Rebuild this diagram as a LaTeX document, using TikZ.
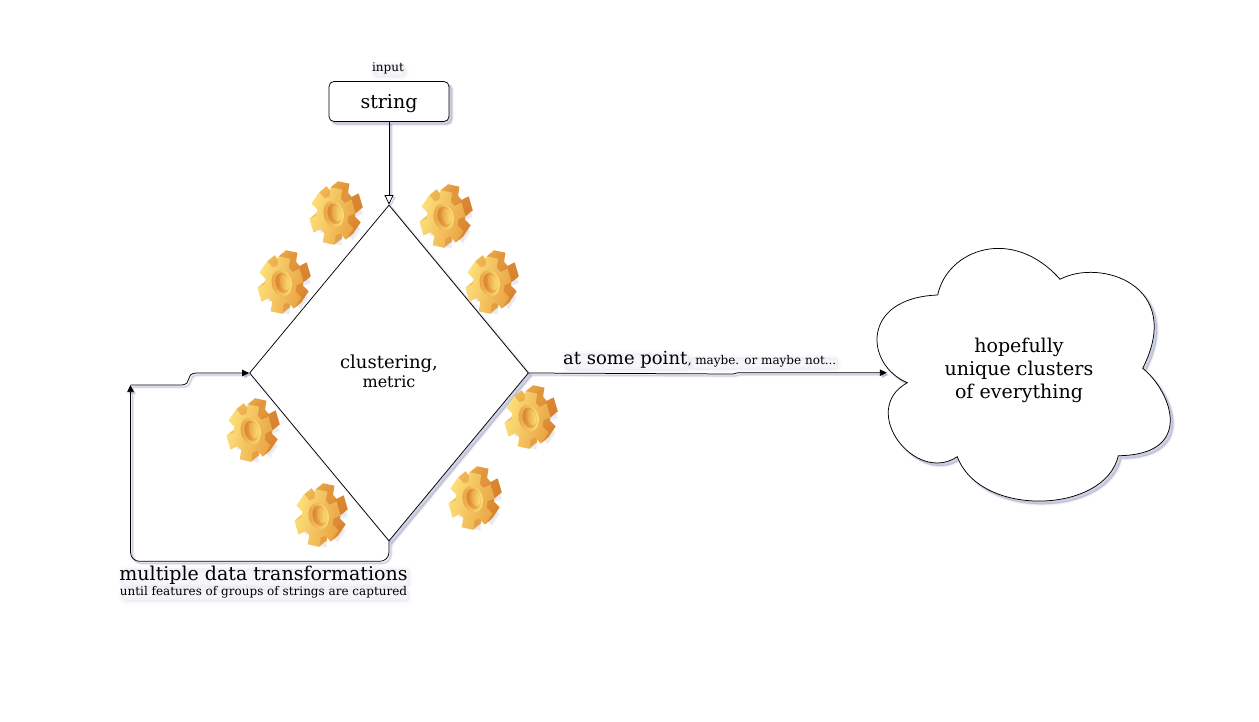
\documentclass[tikz,border=0pt]{standalone}
\usepackage{fontspec}
\setmainfont{DejaVu Serif}
\usetikzlibrary{arrows.meta,shapes.geometric}
\definecolor{shc}{HTML}{6A72A8}
\definecolor{gearL}{HTML}{FDE27C}
\definecolor{gearM}{HTML}{F6C65C}
\definecolor{gearR}{HTML}{E9A242}
\definecolor{gearD}{HTML}{D8802E}
\newcommand{\gearoutline}{(-95:29)
  \foreach \a in {-80,-20,40,100,160,220}{
    -- (\a-15:29) -- (\a+15:29) -- (\a+21:20) -- (\a+39:20) }
  -- cycle}
\tikzset{
  softshape/.style={
    preaction={draw=shc,fill=shc,opacity=.07,line width=3.5bp,transform canvas={xshift=3bp,yshift=-3bp}},
    preaction={draw=shc,fill=shc,opacity=.12,line width=1.5bp,transform canvas={xshift=3bp,yshift=-3bp}},
    preaction={draw=shc,fill=shc,opacity=.15,line width=.2bp,transform canvas={xshift=3bp,yshift=-3bp}}},
  softtext/.style={rounded corners=4bp,inner sep=0pt,
    preaction={fill=shc,opacity=.025,draw=shc,line width=6bp,transform canvas={xshift=2bp,yshift=-3bp}},
    preaction={fill=shc,opacity=.035,draw=shc,line width=2bp,transform canvas={xshift=2bp,yshift=-3bp}}},
  shapeline/.style={draw=black,fill=white,line width=.75bp},
  conn/.style={draw=black,line width=.75bp,rounded corners=0pt,
    preaction={draw=shc,opacity=.12,line width=3bp,transform canvas={xshift=2bp,yshift=-2bp}},
    preaction={draw=shc,opacity=.22,line width=1.2bp,transform canvas={xshift=2bp,yshift=-2bp}}},
  solidtip/.style={-{Triangle[length=7bp,width=6.5bp]}},
  opentip/.style={-{Triangle[open,length=9.5bp,width=9bp,fill=white]}},
  gearpic/.pic={
    \begin{scope}[shift={(1,1)},xscale=.8]
      \fill[shc,opacity=.07] [shift={(3.5,3)}] \gearoutline;
      \fill[shc,opacity=.08] [shift={(2.5,2)}] \gearoutline;
    \end{scope}
    \foreach \i in {8,7,6,5,4,3,2,1}{
      \begin{scope}[shift={({-3.5+\i*.9},{3-\i*.75})},xscale=.8]
        \shade[left color=gearM,right color=gearD] \gearoutline;
      \end{scope}}
    \begin{scope}[shift={(-3.5,3)},xscale=.8]
      \shade[left color=gearL,right color=gearR,shading angle=75] \gearoutline;
    \end{scope}
    \shade[left color=gearR,right color=gearL,rotate=14] (-2.5,0.5) ellipse (10 and 13.5);
    \shade[left color=gearD,right color=gearM,rotate=14] (-1.5,0.5) ellipse (7 and 10.5);
    \shade[left color=gearR,right color=gearL,rotate=14] (0.5,0.5) ellipse (4.5 and 8);
  }
}
\begin{document}
\begin{tikzpicture}[x=1bp,y=-1bp]
\useasboundingbox (0,0) rectangle (1259,722);
\fill[white] (0,0) rectangle (1259,722);

% string box
\node[shapeline,softshape,rectangle,rounded corners=5bp,minimum width=120bp,minimum height=40bp,inner sep=0pt,text depth=0pt,font=\fontsize{19bp}{22bp}\selectfont] (box) at (389,101.5) {\raisebox{-1bp}{string}};
\node[softtext,font=\fontsize{12bp}{14bp}\selectfont] (inp) at (388,68.5) {input};

% diamond
\node[diamond,shapeline,softshape,minimum width=279bp,minimum height=336bp,inner sep=0pt] (dia) at (389,373) {};
\node[inner sep=0pt,align=center,font=\fontsize{18bp}{21bp}\selectfont] (diatxt) at (389,371.5) {clustering,\\[-1.5pt]{\fontsize{16bp}{18bp}\selectfont metric}};

% cloud
\path[shapeline,softshape] (937.7,295) .. controls (947,250) and (1012,225) .. (1060,279.3)
  .. controls (1100,258) and (1185,285) .. (1142.7,368.3)
  .. controls (1172,392) and (1195,455) .. (1118.3,455.7)
  .. controls (1105,514) and (980,518) .. (957.3,456.7)
  .. controls (915,485) and (858,410) .. (907.3,382.7)
  .. controls (865,365) and (860,298) .. cycle;
\node[minimum width=264bp,minimum height=80bp,inner sep=0pt] (cloud) at (1019,372.7) {};
\node[inner sep=0pt,align=center,font=\fontsize{19bp}{23bp}\selectfont] (cloudtxt) at (1019,370.5) {hopefully\\unique clusters\\of everything};

% gears
\pic (g1) at (336,213) {gearpic};
\pic (g2) at (446,216) {gearpic};
\pic (g3) at (284,282) {gearpic};
\pic (g4) at (492,282) {gearpic};
\pic (g5) at (253,430) {gearpic};
\pic (g6) at (531,417) {gearpic};
\pic (g7) at (321,515) {gearpic};
\pic (g8) at (475,498) {gearpic};

% labels
\node[softtext,font=\fontsize{18bp}{20bp}\selectfont,anchor=base west] (l1) at (563,364) {at some point};
\node[softtext,font=\fontsize{12bp}{14bp}\selectfont,anchor=base west] (l2) at (l1.base east) {, maybe. or maybe not...};
\node[softtext,font=\fontsize{19bp}{22bp}\selectfont] (l3) at (263.5,575) {multiple data transformations};
\node[softtext,font=\fontsize{12bp}{14bp}\selectfont] (l4) at (263.5,592.5) {until features of groups of strings are captured};

% connectors
\coordinate (loopend) at (130.5,385);
\path[conn,opentip] (box.south) -- (dia.north);
\path[conn,solidtip] (dia.east) -- (733,374) -- (738,372.7) -- (cloud.west);
\path[conn,solidtip,rounded corners=9bp] (dia.south) -- (389,561.3) -- (130.5,561.3) -- (loopend);
\path[conn,solidtip] (loopend) -- (180,385) .. controls (195,385) and (182,373) .. (198,373) -- (dia.west);
\end{tikzpicture}
\end{document}
